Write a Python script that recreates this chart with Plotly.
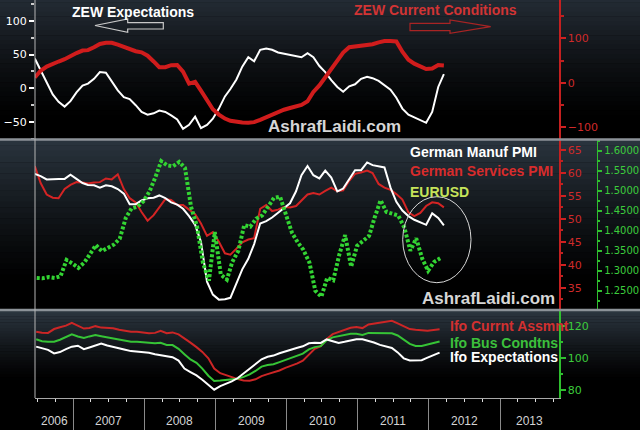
import plotly.graph_objects as go

# ------------------------------------------------------------------ data
zew_expectations = [44, 27, 8, -9, -20, -27, -19, -6, 4, 7,
                    14, 24, 23, 10, -3, -13, -16, -25, -35, -39,
                    -37, -33, -35, -40, -46, -60, -54, -42, -59, -54,
                    -45, -30, -12, -1, 13, 32, 46, 40, 57, 59,
                    57, 53, 51, 49, 47, 46, 52, 46, 33, 24,
                    12, 2, -5, 3, 6, 14, 17, 15, 11, 4,
                    -2, -14, -30, -39, -43, -48, -51, -35, 2, 21]
zew_current = [12, 27, 36.5, 43, 47.8, 53, 61, 67, 72.5, 73.5,
               80, 87.5, 90, 90, 86, 81, 75.5, 71, 68.5, 61,
               48, 35, 35, 39.5, 40, 25, -2, 2, -18, -39,
               -60, -72, -81, -86, -89, -90, -90.5, -89, -84, -78,
               -74, -67, -61, -57, -53, -50, -42, -21, -6, 13,
               29, 50, 68, 80, 82, 83, 84, 87, 91, 94,
               94, 93, 70, 52, 43, 36, 31, 32, 40, 39]
pmi_manuf = [59.8, 59.3, 58.6, 58.7, 58.7, 58.7, 59.6, 58.7, 57.8, 57.4,
             57.3, 56.8, 57.3, 57.1, 56.5, 55.5, 53.2, 53.2, 54.0, 54.5,
             54.6, 55.1, 54.5, 53.6, 53.1, 52.2, 50.6, 48.7, 45.0, 36.3,
             33.5, 32.4, 32.5, 32.8, 36.0, 39.0, 41.3, 44.5, 49.0, 49.5,
             50.3, 51.4, 52.4, 53.4, 56.0, 59.5, 61.5, 59.5, 58.8, 60.5,
             59.0, 56.0, 56.6, 58.6, 60.6, 60.6, 62.3, 61.7, 61.5, 61.2,
             56.8, 53.7, 51.8, 50.6, 49.8, 49.2, 48.7, 51.2, 50.2, 48.6]
pmi_services = [61.5, 57.8, 55.3, 54.6, 54.5, 56.5, 57.4, 58.0, 57.9, 57.7,
                57.9, 58.0, 58.8, 58.6, 59.7, 56.5, 54.5, 53.6, 51.5, 49.6,
                50.8, 52.5, 54.3, 54.1, 53.0, 53.0, 52.0, 51.0, 49.0, 46.3,
                47.1, 45.0, 42.5, 42.2, 43.5, 44.9, 45.5, 45.8, 52.2, 53.0,
                51.7, 52.0, 52.6, 52.5, 52.8, 54.0, 55.3, 55.6, 55.3, 56.1,
                56.8, 56.0, 56.2, 58.3, 59.8, 60.1, 60.5, 60.0, 57.6, 56.8,
                56.3, 55.4, 54.2, 51.4, 50.6, 51.3, 52.8, 53.6, 53.4, 52.5]
eurusd = [1.282, 1.281, 1.284, 1.282, 1.286, 1.327, 1.318, 1.307, 1.321, 1.343,
          1.364, 1.349, 1.357, 1.365, 1.380, 1.432, 1.456, 1.460, 1.474, 1.498,
          1.535, 1.574, 1.563, 1.561, 1.572, 1.557, 1.460, 1.410, 1.320, 1.275,
          1.397, 1.290, 1.278, 1.322, 1.350, 1.414, 1.410, 1.430, 1.438, 1.460,
          1.482, 1.485, 1.440, 1.395, 1.370, 1.352, 1.320, 1.250, 1.235, 1.282,
          1.276, 1.340, 1.389, 1.310, 1.362, 1.376, 1.387, 1.432, 1.476, 1.447,
          1.442, 1.438, 1.408, 1.350, 1.381, 1.330, 1.300, 1.322, 1.331]
ifo_current = [116.6, 116.0, 115.9, 118.3, 119.4, 120.4, 122.2, 120.5, 118.6, 119.0,
               120.1, 119.2, 118.8, 118.8, 117.8, 117.0, 116.6, 116.6, 116.1, 115.7,
               115.9, 117.2, 115.7, 116.2, 115.0, 112.6, 109.8, 107.0, 104.0, 100.0,
               93.6, 90.7, 89.5, 88.0, 87.0, 86.2, 86.0, 86.9, 88.9, 90.1,
               91.0, 92.4, 94.0, 95.3, 96.8, 98.5, 102.0, 106.0, 107.6, 112.0,
               115.1, 116.6, 117.9, 119.1, 119.5, 118.9, 121.2, 121.7, 122.0, 122.8,
               123.5, 121.8, 119.8, 118.3, 117.9, 117.6, 117.3, 117.7, 118.1]
ifo_business = [111.9, 110.7, 110.4, 110.4, 111.6, 113.2, 115.0, 113.6, 112.7, 113.7,
                114.5, 113.8, 113.1, 112.4, 111.5, 110.8, 110.4, 110.4, 110.0, 109.6,
                109.4, 109.7, 108.4, 108.3, 105.9, 102.6, 99.3, 97.2, 93.6, 89.1,
                85.9, 86.1, 86.4, 86.6, 87.2, 88.4, 90.0, 92.1, 94.8, 95.8,
                96.3, 97.6, 98.9, 100.4, 101.5, 102.9, 105.6, 107.0, 107.6, 111.2,
                113.1, 114.0, 114.7, 115.3, 115.3, 114.6, 115.9, 115.8, 115.6, 115.6,
                115.6, 114.3, 111.6, 109.0, 107.7, 107.7, 108.6, 109.4, 110.5]
ifo_expectations = [107.3, 106.4, 105.3, 103.1, 103.9, 105.8, 107.3, 107.9, 105.7, 106.8,
                    108.0, 109.3, 108.0, 107.0, 106.2, 105.4, 104.5, 104.1, 104.1, 103.5,
                    102.5, 101.9, 101.3, 100.7, 98.6, 93.6, 91.4, 89.3, 86.6, 83.7,
                    80.4, 82.6, 84.1, 85.6, 87.7, 90.5, 93.4, 96.3, 99.4, 101.0,
                    101.7, 103.2, 104.4, 105.3, 106.6, 107.5, 109.4, 109.8, 109.6, 111.8,
                    110.5, 109.6, 110.3, 111.3, 111.9, 111.9, 111.0, 109.9, 108.4, 107.6,
                    106.5, 103.7, 100.0, 98.6, 98.5, 98.8, 100.4, 101.9, 103.6]
year_labels = ["2006", "2007", "2008", "2009", "2010", "2011", "2012", "2013"]
year_label_dates = ["2006-09-25", "2007-07-02", "2008-07-02", "2009-07-02",
                    "2010-07-02", "2011-07-02", "2012-07-02", "2013-06-01"]


def monthly(year, month, n, day):
    out = []
    for i in range(n):
        yy = year + (month - 1 + i) // 12
        mm = (month - 1 + i) % 12 + 1
        out.append(f"{yy}-{mm:02d}-{day:02d}")
    return out


zew_dates = monthly(2006, 6, len(zew_expectations), 18)
pmi_dates = monthly(2006, 6, len(pmi_manuf), 18)
fx_dates = monthly(2006, 6, len(eurusd), 28)
ifo_dates = monthly(2006, 6, len(ifo_current), 25)

# ------------------------------------------------------------------ geometry helpers
L, W, H = 35, 605, 398


def px(xp):
    return (xp - L) / W


def py(yp):
    return (H - yp) / H


RED = "#d42424"
WHITE = "#ffffff"
TICKFONT = dict(family="DejaVu Sans", size=11)
TXT = "Liberation Sans, Arial, sans-serif"

fig = go.Figure()

fig.add_trace(go.Scatter(x=zew_dates, y=zew_expectations, yaxis="y", mode="lines",
                         line=dict(color=WHITE, width=2)))
fig.add_trace(go.Scatter(x=zew_dates, y=zew_current, yaxis="y2", mode="lines",
                         line=dict(color="#d01c1c", width=4)))

fig.add_trace(go.Scatter(x=pmi_dates, y=pmi_services, yaxis="y3", mode="lines",
                         line=dict(color=RED, width=2)))
fig.add_trace(go.Scatter(x=pmi_dates, y=pmi_manuf, yaxis="y3", mode="lines",
                         line=dict(color=WHITE, width=2)))
fig.add_trace(go.Scatter(x=fx_dates, y=eurusd, yaxis="y4", mode="lines",
                         line=dict(color="#33d433", width=4, dash="3px,2px")))

fig.add_trace(go.Scatter(x=ifo_dates, y=ifo_current, yaxis="y5", mode="lines",
                         line=dict(color="#cc2626", width=2)))
fig.add_trace(go.Scatter(x=ifo_dates, y=ifo_business, yaxis="y5", mode="lines",
                         line=dict(color="#36c436", width=2)))
fig.add_trace(go.Scatter(x=ifo_dates, y=ifo_expectations, yaxis="y5", mode="lines",
                         line=dict(color=WHITE, width=2)))

# ------------------------------------------------------------------ backgrounds
shapes = []


def gradient(y_top, y_bot, rgb, n=30, fade=0.82, gamma=1.2):
    h = y_bot - y_top
    for b in range(n):
        f0, f1 = b / n, (b + 1) / n
        k = max(0.0, 1 - ((f0 + f1) / 2) / fade) ** gamma
        c = "rgb(%d,%d,%d)" % tuple(int(round(v * k)) for v in rgb)
        shapes.append(dict(type="rect", xref="paper", yref="paper", layer="below",
                           x0=px(-2), x1=px(642), y0=py(y_top + f1 * h), y1=py(y_top + f0 * h) + 0.001,
                           fillcolor=c, line=dict(width=0)))


gradient(-2, 139, (36, 44, 53), fade=0.85)
gradient(140, 309, (42, 52, 62), fade=0.85)
gradient(311, 398, (44, 54, 64), fade=0.8)

# separators
for yy in (139.5, 310):
    shapes.append(dict(type="line", xref="paper", yref="paper", x0=px(-2), x1=px(642),
                       y0=py(yy), y1=py(yy), line=dict(color="#8c9298", width=2.5)))
# left axis line through all panels
shapes.append(dict(type="line", xref="paper", yref="paper", x0=0, x1=0, y0=0, y1=1,
                   line=dict(color="#b4b4b4", width=1)))
# arrows
shapes.append(dict(type="path", xref="paper", yref="paper",
                   path="M %f,%f L %f,%f L %f,%f L %f,%f L %f,%f L %f,%f L %f,%f Z" % (
                       px(95), py(25.5), px(127.7), py(19), px(127.7), py(22.7), px(163.3), py(22.7),
                       px(163.3), py(29), px(127.7), py(29), px(127.7), py(32.3)),
                   line=dict(color="#c8c8c8", width=1.2)))
shapes.append(dict(type="path", xref="paper", yref="paper",
                   path="M %f,%f L %f,%f L %f,%f L %f,%f L %f,%f L %f,%f L %f,%f Z" % (
                       px(490.7), py(26.7), px(450), py(20), px(450), py(23.3), px(410), py(23.3),
                       px(410), py(30.7), px(450), py(30.7), px(450), py(33.3)),
                   line=dict(color="#a82424", width=1.2)))
# ellipse
shapes.append(dict(type="circle", xref="paper", yref="paper",
                   x0=px(402.7), x1=px(471), y0=py(282.7), y1=py(196.7),
                   line=dict(color="#d8d8d8", width=1)))

# ------------------------------------------------------------------ annotations
ann = []


def text(t, x, y, color, size=14, anchor="left"):
    ann.append(dict(text="<b>%s</b>" % t, x=px(x), y=py(y), xref="paper", yref="paper",
                    xanchor=anchor, yanchor="middle", showarrow=False,
                    font=dict(family=TXT, size=size, color=color)))


text("ZEW Expectations", 70, 12, WHITE)
text("ZEW Current Conditions", 352, 10.5, "#d23434")
text("AshrafLaidi.com", 334.5, 126.5, "#d6d6d6", size=17, anchor="center")
text("German Manuf PMI", 408, 151.7, WHITE)
text("German Services PMI", 408, 171, "#d82c2c")
text("EURUSD", 408, 191.7, "#c6e45a")
text("AshrafLaidi.com", 488, 298.3, "#d6d6d6", size=17, anchor="center")
text("Ifo Currnt Assmnt", 448, 326, "#d23030")
text("Ifo Bus Condtns", 448, 342.7, "#3cc03c")
text("Ifo Expectations", 448, 357.3, WHITE)

for lab, d in zip(year_labels, year_label_dates):
    ann.append(dict(text=lab, x=d, y=py(420.7), xref="x", yref="paper", xanchor="center",
                    yanchor="middle", showarrow=False,
                    font=dict(family=TXT, size=12, color="#d4d4d4")))

# ------------------------------------------------------------------ axes
dom_end = px(559)
fig.update_layout(
    width=640, height=430,
    margin=dict(l=L, r=0, t=0, b=32, autoexpand=False),
    paper_bgcolor="black", plot_bgcolor="rgba(0,0,0,0)",
    showlegend=False, hovermode=False,
    shapes=shapes, annotations=ann,
    xaxis=dict(type="date", domain=[0, dom_end], anchor="y5",
               range=["2006-06-19", "2013-10-30"],
               showgrid=False, zeroline=False, showline=True, linecolor="#a8a8a8", linewidth=1,
               ticks="outside", tickmode="linear", tick0="2006-01-01", dtick="M12",
               ticklen=32, tickcolor="#8a8a8a", tickwidth=1, showticklabels=False,
               minor=dict(ticks="outside", dtick="M3", tick0="2006-01-01", ticklen=3,
                          tickcolor="#dddddd", tickwidth=1)),
    yaxis=dict(domain=[py(139.5), 1], range=[-75.7, 130.6], side="left", anchor="x",
               showgrid=False, zeroline=False, showline=False,
               tickmode="linear", tick0=0, dtick=50, ticks="outside", ticklen=5,
               tickwidth=2, tickcolor=WHITE, tickfont=dict(color=WHITE, **TICKFONT),
               minor=dict(ticks="outside", dtick=25, tick0=0, ticklen=3, tickcolor="#cccccc")),
    yaxis2=dict(overlaying="y", side="right", anchor="x", range=[-128.2, 186.7],
                showgrid=False, zeroline=False, showline=True, linecolor="#c42020", linewidth=1.5,
                tickmode="linear", tick0=0, dtick=100, ticks="outside", ticklen=5,
                tickwidth=2, tickcolor="#d02020", tickfont=dict(color="#d02a2a", **TICKFONT),
                minor=dict(ticks="outside", dtick=50, tick0=0, ticklen=3, tickcolor="#c02020")),
    yaxis3=dict(domain=[py(310), py(139.5)], side="right", anchor="x", range=[30.14, 67.29],
                showgrid=False, zeroline=False, showline=True, linecolor="#c42020", linewidth=1.5,
                tickmode="linear", tick0=35, dtick=5, ticks="outside", ticklen=5,
                tickwidth=2, tickcolor="#d02020", tickfont=dict(color="#d02a2a", **TICKFONT),
                minor=dict(ticks="outside", dtick=2.5, tick0=35, ticklen=2, tickcolor="#c02020")),
    yaxis4=dict(overlaying="y3", side="right", anchor="free", position=px(596.7),
                range=[1.2018, 1.628],
                showgrid=False, zeroline=False, showline=True, linecolor="#2fbf2f", linewidth=1.5,
                tickmode="linear", tick0=1.25, dtick=0.05, tickformat=".4f", ticks="outside",
                ticklen=4, tickwidth=2, tickcolor="#2fbf2f",
                tickfont=dict(color="#3ccc3c", family="DejaVu Sans", size=10),
                minor=dict(ticks="outside", dtick=0.025, tick0=1.25, ticklen=2, tickcolor="#2fbf2f")),
    yaxis5=dict(domain=[0, py(310)], side="right", anchor="x", range=[75.2, 130.2],
                showgrid=False, zeroline=False, showline=True, linecolor="#2fbf2f", linewidth=1.5,
                tickmode="linear", tick0=80, dtick=20, ticks="outside", ticklen=5,
                tickwidth=2, tickcolor="#2fbf2f", tickfont=dict(color="#3ccc3c", **TICKFONT),
                minor=dict(ticks="outside", dtick=10, tick0=80, ticklen=2, tickcolor="#2fbf2f")),
)

fig.write_html("out.html", config={"displayModeBar": False, "staticPlot": True},
               post_script="document.body.style.margin='0';document.body.style.background='black';")
